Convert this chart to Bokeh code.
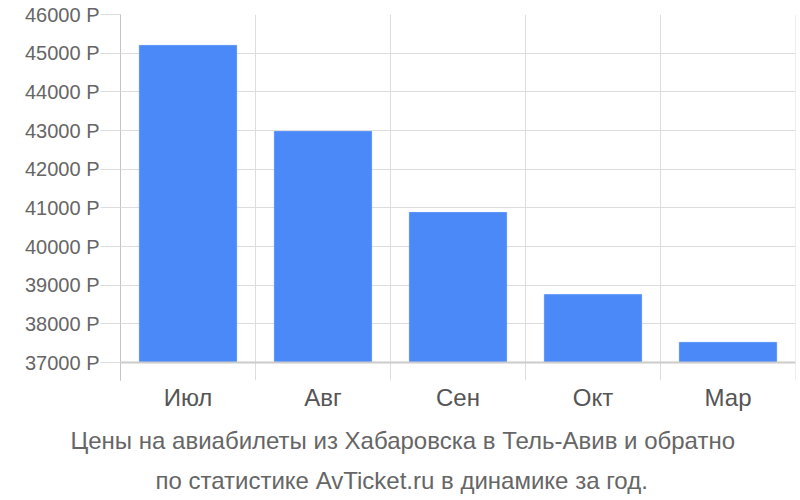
from bokeh.plotting import figure
from bokeh.models import Range1d, FactorRange, FixedTicker, PrintfTickFormatter, Span, Title
from bokeh.embed import file_html
from bokeh.resources import INLINE

months = ["Июл", "Авг", "Сен", "Окт", "Мар"]
prices = [45200, 42975, 40880, 38755, 37520]
y_ticks = [37000, 38000, 39000, 40000, 41000, 42000, 43000, 44000, 45000, 46000]
caption_1 = "Цены на авиабилеты из Хабаровска в Тель-Авив и обратно"
caption_2 = "по статистике AvTicket.ru в динамике за год."

FONT = "Liberation Sans"

p = figure(width=800, height=500, output_backend="svg", toolbar_location=None,
           x_range=FactorRange(*months, range_padding=0, factor_padding=0),
           y_range=Range1d(36535, 46000),
           min_border_left=120, min_border_right=5, min_border_top=14, min_border_bottom=120)
p.outline_line_color = None
p.background_fill_color = "white"
p.border_fill_color = "white"

p.vbar(x=months, top=prices, bottom=y_ticks[0], width=0.72,
       fill_color="#4c89f8", line_color="#5d95f9", line_width=1)

# vertical separators between categories
for i in range(len(months) + 1):
    p.add_layout(Span(location=i, dimension="height", line_color="#dddddd", line_width=1))
p.add_layout(Span(location=y_ticks[0], dimension="width", line_color="#cccccc", line_width=2))

p.xgrid.grid_line_color = None
p.ygrid.grid_line_color = "#dddddd"
p.ygrid.ticker = FixedTicker(ticks=y_ticks)

p.yaxis.ticker = FixedTicker(ticks=y_ticks)
p.yaxis.formatter = PrintfTickFormatter(format="%d Р")
p.yaxis.axis_line_color = "#aaaaaa"
p.yaxis.axis_line_width = 1
p.yaxis.major_tick_out = 20
p.yaxis.major_tick_in = 0
p.yaxis.major_tick_line_color = "#dddddd"
p.yaxis.minor_tick_line_color = None
p.yaxis.major_label_standoff = 1
p.yaxis.major_label_text_font = FONT
p.yaxis.major_label_text_font_size = "20px"
p.yaxis.major_label_text_color = "#666666"

p.xaxis.axis_line_color = None
p.xaxis.major_tick_line_color = None
p.xaxis.major_label_standoff = -3
p.xaxis.major_label_text_font = FONT
p.xaxis.major_label_text_font_size = "24px"
p.xaxis.major_label_text_color = "#555555"

for txt, off, sto in [(caption_1, -50, 22), (caption_2, 35, 0)]:
    p.add_layout(Title(text=txt, align="left", offset=off, standoff=sto,
                       text_font=FONT, text_font_size="24px", text_font_style="normal",
                       text_color="#666666"), "below")

open("out.html", "w").write(file_html(p, INLINE))
